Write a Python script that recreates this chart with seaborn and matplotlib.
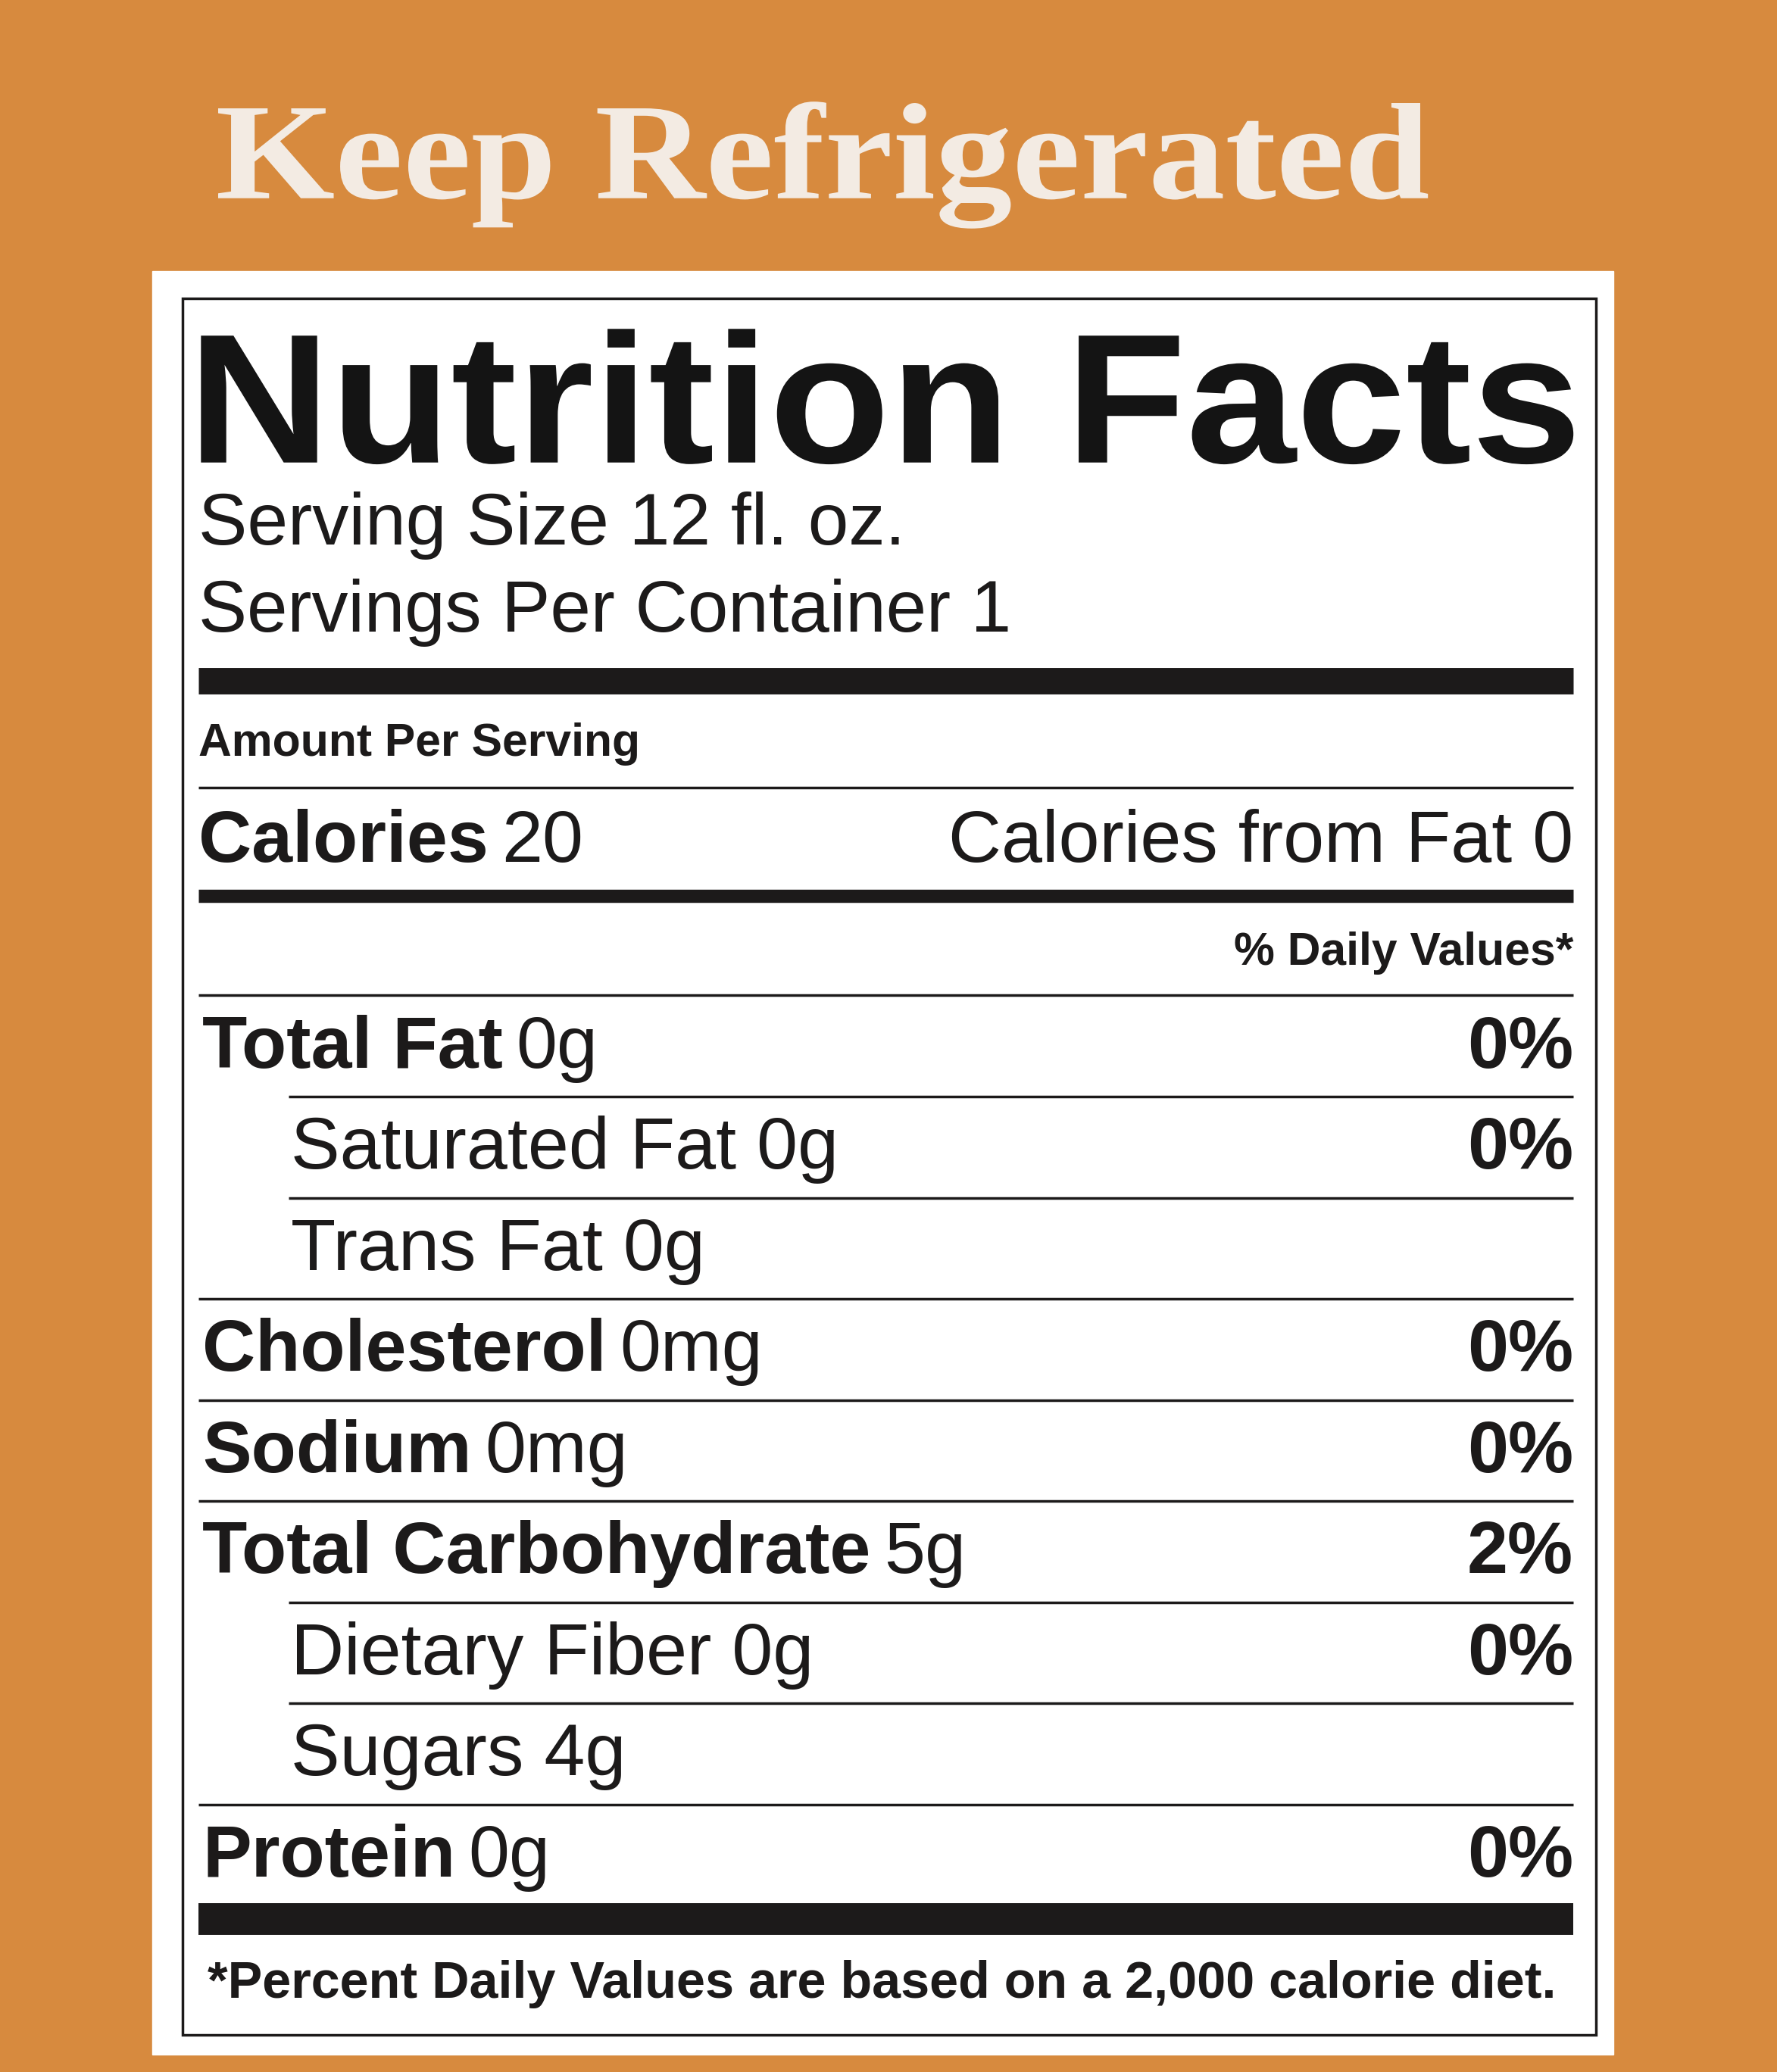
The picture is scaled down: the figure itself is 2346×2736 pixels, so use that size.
import matplotlib
matplotlib.use("Agg")
import matplotlib.pyplot as plt
import seaborn as sns
from matplotlib.textpath import TextPath
from matplotlib.patches import PathPatch
from matplotlib.font_manager import FontProperties
from matplotlib.transforms import Affine2D

sns.set_theme(style="white")
plt.rcParams['font.family'] = ['Liberation Sans', 'DejaVu Sans']

# label contents
header_lines = ["Serving Size 12 fl. oz.", "Servings Per Container 1"]
nutrients = ["Total Fat", "Saturated Fat", "Trans Fat", "Cholesterol", "Sodium",
             "Total Carbohydrate", "Dietary Fiber", "Sugars", "Protein"]
amounts = ["0g", "0g", "0g", "0mg", "0mg", "5g", "0g", "4g", "0g"]
daily_pct = ["0%", "0%", "", "0%", "0%", "2%", "0%", "", "0%"]
is_sub = [False, True, True, False, False, False, True, True, False]
calories = 20
calories_fat = 0

W, H = 1344, 1568   # layout units (reference view), scaled to 2346x2736
S = 2346 / W
ink = "#1c1a1a"

fig = plt.figure(figsize=(23.46, 27.36), dpi=100)
ax = fig.add_axes([0, 0, 1, 1])
ax.set_xlim(0, W)
ax.set_ylim(H, 0)
ax.axis("off")
fig.patch.set_facecolor("#d78a3e")

ax.add_patch(plt.Rectangle((115, 205), 1105, 1350, color="white", zorder=1))
ax.add_patch(plt.Rectangle((138, 226), 1069, 1314, fill=False, ec=ink, lw=2.5, zorder=2))


def stretched(s, x0, x1, base, cap, color, **fp):
    # text drawn as a path, stretched to the given width and cap height
    tp = TextPath((0, 0), s, size=1, prop=FontProperties(**fp))
    ref = TextPath((0, 0), "H", size=1, prop=FontProperties(**fp)).get_extents()
    bb = tp.get_extents()
    tr = (Affine2D().translate(-bb.x0, 0)
          .scale((x1 - x0) / bb.width, -cap / ref.height).translate(x0, base))
    ax.add_patch(PathPatch(tr.transform_path(tp), fc=color, ec="none", zorder=3))


stretched("Keep Refrigerated", 165, 1080, 150, 68, "#f3ebe3",
          family="Liberation Serif", weight="bold")
stretched("Nutrition Facts", 152, 1190, 350, 96, "#141414",
          family="Liberation Sans", weight="bold")

fig.canvas.draw()
rend = fig.canvas.get_renderer()


def width_of(t):
    bb = t.get_window_extent(renderer=rend)
    inv = ax.transData.inverted()
    (x0, _), (x1, _) = inv.transform([(bb.x0, 0), (bb.x1, 0)])
    return x1 - x0


def fit_text(x, y, s, target_w, fs, **kw):
    t = ax.text(x, y, s, fontsize=fs, va="baseline", color=ink, zorder=3, **kw)
    w = width_of(t)
    t.set_fontsize(fs * target_w / w)
    return t


def pair(x, y, bold, regular, fs):
    t = ax.text(x, y, bold, fontsize=fs, fontweight="bold", va="baseline", color=ink, zorder=3)
    w = width_of(t)
    if regular:
        ax.text(x + w + 10, y, regular, fontsize=fs, va="baseline", color=ink, zorder=3)


def hline(y, lw, x0=150):
    ax.plot([x0, 1190], [y, y], color=ink, lw=lw * S * 0.72, solid_capstyle="butt", zorder=3)


fs_row = 40 * S
for i, line in enumerate(header_lines):
    fit_text(150, 412 + 66 * i, line, [535, 615][i], fs_row)

hline(515, 20)
ax.text(150, 572, "Amount Per Serving", fontsize=25 * S, fontweight="bold", va="baseline", color=ink)
hline(596, 2)
pair(150, 652, "Calories", str(calories), fs_row)
ax.text(1190, 652, f"Calories from Fat {calories_fat}", fontsize=fs_row, ha="right",
        va="baseline", color=ink)
hline(678, 10)
ax.text(1190, 730, "% Daily Values*", fontsize=25 * S, fontweight="bold", ha="right",
        va="baseline", color=ink)
hline(753, 2)

y = 808
for i, name in enumerate(nutrients):
    x = 220 if is_sub[i] else 153
    if is_sub[i]:
        ax.text(x, y, f"{name} {amounts[i]}", fontsize=fs_row, va="baseline", color=ink)
    else:
        pair(x, y, name, amounts[i], fs_row)
    if daily_pct[i]:
        ax.text(1190, y, daily_pct[i], fontsize=fs_row, fontweight="bold", ha="right",
                va="baseline", color=ink)
    if i < len(nutrients) - 1:
        hline(y + 22, 2, 218 if is_sub[i + 1] else 150)
    y += 76.5

hline(1452, 24)
fit_text(157, 1512, "*Percent Daily Values are based on a 2,000 calorie diet.", 1020, 44,
         fontweight="bold")

fig.savefig("out.png", dpi=100, facecolor=fig.get_facecolor())
